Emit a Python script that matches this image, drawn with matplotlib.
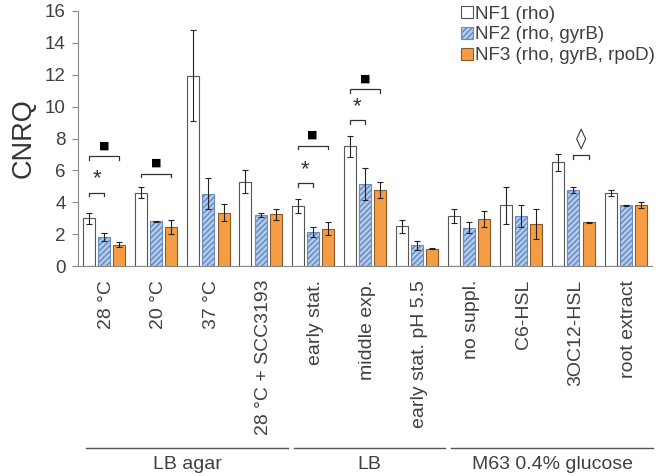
import numpy as np
import matplotlib.pyplot as plt
import matplotlib.transforms as mtransforms

plt.rcParams['font.family'] = ['Liberation Sans', 'DejaVu Sans']
plt.rcParams['hatch.color'] = 'white'
plt.rcParams['hatch.linewidth'] = 1.1

# --- data ---
categories = ['28 °C', '20 °C', '37 °C', '28 °C + SCC3193',
              'early stat.', 'middle exp.', 'early stat. pH 5.5',
              'no suppl.', 'C6-HSL', '3OC12-HSL', 'root extract']
nf1 = [3.0, 4.6, 11.95, 5.3, 3.75, 7.5, 2.5, 3.15, 3.8, 6.5, 4.6]
nf1_err = [0.35, 0.35, 2.85, 0.7, 0.45, 0.65, 0.4, 0.45, 1.15, 0.55, 0.2]
nf2 = [1.8, 2.8, 4.55, 3.2, 2.15, 5.15, 1.3, 2.4, 3.15, 4.75, 3.8]
nf2_err = [0.25, 0.03, 0.95, 0.15, 0.3, 1.0, 0.28, 0.35, 0.7, 0.18, 0.03]
nf3 = [1.35, 2.45, 3.35, 3.25, 2.35, 4.8, 1.1, 2.95, 2.65, 2.75, 3.85]
nf3_err = [0.15, 0.45, 0.55, 0.35, 0.4, 0.5, 0.05, 0.5, 0.95, 0.03, 0.18]
series_labels = ['NF1 (rho)', 'NF2 (rho, gyrB)', 'NF3 (rho, gyrB, rpoD)']

groups = ['LB agar', 'LB', 'M63 0.4% glucose']
group_spans = [(0, 3), (4, 6), (7, 10)]

# (group index, bar a, bar b, bracket height, symbol)
sig = [(0, 0, 1, 4.6, '*'), (0, 0, 2, 6.9, '■'),
       (1, 0, 2, 5.8, '■'),
       (4, 0, 1, 5.2, '*'), (4, 0, 2, 7.55, '■'),
       (5, 0, 1, 9.15, '*'), (5, 0, 2, 11.1, '■'),
       (9, 1, 2, 6.95, '◊')]

fig = plt.figure(figsize=(6.64, 4.76), dpi=100)
ax = fig.add_axes([0.1175, 0.441, 0.864, 0.536])

x = np.arange(len(categories))
w = 0.23
off = 0.29
ekw = dict(ecolor='#222222', elinewidth=0.8, capsize=2.5, capthick=0.8)
ax.bar(x - off, nf1, w, yerr=nf1_err, color='white', edgecolor='#555555',
       linewidth=0.8, error_kw=ekw, label=series_labels[0])
ax.bar(x, nf2, w, yerr=nf2_err, color='#b2cdf0', edgecolor='#6a8cbc',
       linewidth=0.8, hatch='//////', error_kw=ekw, label=series_labels[1])
ax.bar(x + off, nf3, w, yerr=nf3_err, color='#f59d45', edgecolor='#8a5a2a',
       linewidth=0.8, error_kw=ekw, label=series_labels[2])

# significance brackets
offs = [-off, 0, off]
tick = 0.22
for g, a, b, h, s in sig:
    xa, xb = g + offs[a], g + offs[b]
    ax.plot([xa, xa, xb, xb], [h - tick, h, h, h - tick], color='#333333', lw=0.9)
    if s == '*':
        ax.text((xa + xb) / 2, h + 0.2, s, ha='center', va='bottom', fontsize=16,
                color='#333333')
    elif s == '■':
        ax.text((xa + xb) / 2, h + 0.35, s, ha='center', va='bottom', fontsize=8,
                family=['DejaVu Sans'])
    else:
        ax.text((xa + xb) / 2, h + 0.3, s, ha='center', va='bottom', fontsize=15,
                family=['DejaVu Sans'], color='#333333')

ax.set_xlim(-0.5, len(categories) - 0.5)
ax.set_ylim(0, 16)
ax.set_yticks(range(0, 17, 2))
ax.set_ylabel('CNRQ', fontsize=19.5, color='#333333', labelpad=6)
ax.set_xticks(x + 0.05)
ax.set_xticklabels(categories, rotation=90, fontsize=14, color='#404040')
ax.tick_params(axis='x', length=0, pad=10)
ax.tick_params(axis='y', labelsize=13.5, labelcolor='#404040', color='#888888',
               length=4, direction='out', pad=5)
for sp in ['top', 'right']:
    ax.spines[sp].set_visible(False)
ax.spines['left'].set_color('#888888')
ax.spines['bottom'].set_color('#888888')

# group lines and labels below
trans = mtransforms.blended_transform_factory(ax.transData, fig.transFigure)
for name, (g0, g1) in zip(groups, group_spans):
    ax.plot([g0 - 0.35, g1 + 0.53], [0.059, 0.059], transform=trans,
            color='#555555', lw=1.0, clip_on=False)
    fig.text((g0 + g1) / 2 + 0.09, 0.043, name, transform=trans, ha='center',
             va='top', fontsize=14, color='#404040')

leg = ax.legend(loc='upper left', bbox_to_anchor=(0.655, 1.05), frameon=False,
                fontsize=13.5, handlelength=0.6, handleheight=0.6,
                handletextpad=0.15, labelspacing=0.2, borderaxespad=0)
for t in leg.get_texts():
    t.set_color('#404040')

fig.savefig('out.png', dpi=100)
